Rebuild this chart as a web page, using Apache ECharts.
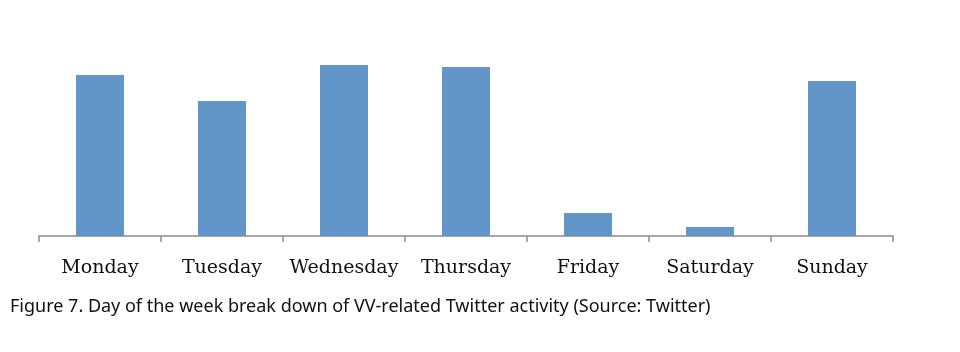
<!DOCTYPE html>
<html lang="en">
<head>
    <meta charset="UTF-8">
    <title>Figure 7</title>
    <script src="https://cdn.jsdelivr.net/npm/echarts@6/dist/echarts.min.js"></script>
    <style>
        html, body { margin: 0; padding: 0; background: #fff; }
        #chart { width: 960px; height: 352px; }
    </style>
</head>
<body>
<div id="chart"></div>
<script>
    // days of the week and activity (arbitrary units)
    var days = ['Monday', 'Tuesday', 'Wednesday', 'Thursday', 'Friday', 'Saturday', 'Sunday'];
    var activity = [161, 135, 171, 169, 23, 9, 155];
    var caption = 'Figure 7. Day of the week break down of VV-related Twitter activity (Source: Twitter)';

    var mychart = echarts.init(document.getElementById('chart'));
    var option = {
        animation: false,
        title: {
            text: caption,
            left: 5,
            top: 293,
            textStyle: {
                fontFamily: 'Noto Sans',
                fontSize: 18,
                fontWeight: 'normal',
                color: '#111'
            }
        },
        grid: {
            left: 39,
            right: 67,
            top: 36,
            bottom: 116
        },
        xAxis: {
            type: 'category',
            data: days,
            axisLine: { lineStyle: { color: '#8a8a8a', width: 1.5 } },
            axisTick: { show: true, interval: 0, length: 6, lineStyle: { color: '#8a8a8a', width: 1.5 } },
            axisLabel: {
                interval: 0,
                margin: 23,
                fontFamily: 'DejaVu Serif',
                fontSize: 19,
                color: '#111'
            }
        },
        yAxis: {
            type: 'value',
            min: 0,
            max: 200,
            show: false,
            splitLine: { show: false }
        },
        series: [{
            type: 'bar',
            data: activity,
            barWidth: 48,
            itemStyle: { color: '#6396c8' }
        }]
    };
    mychart.setOption(option);
</script>
</body>
</html>
